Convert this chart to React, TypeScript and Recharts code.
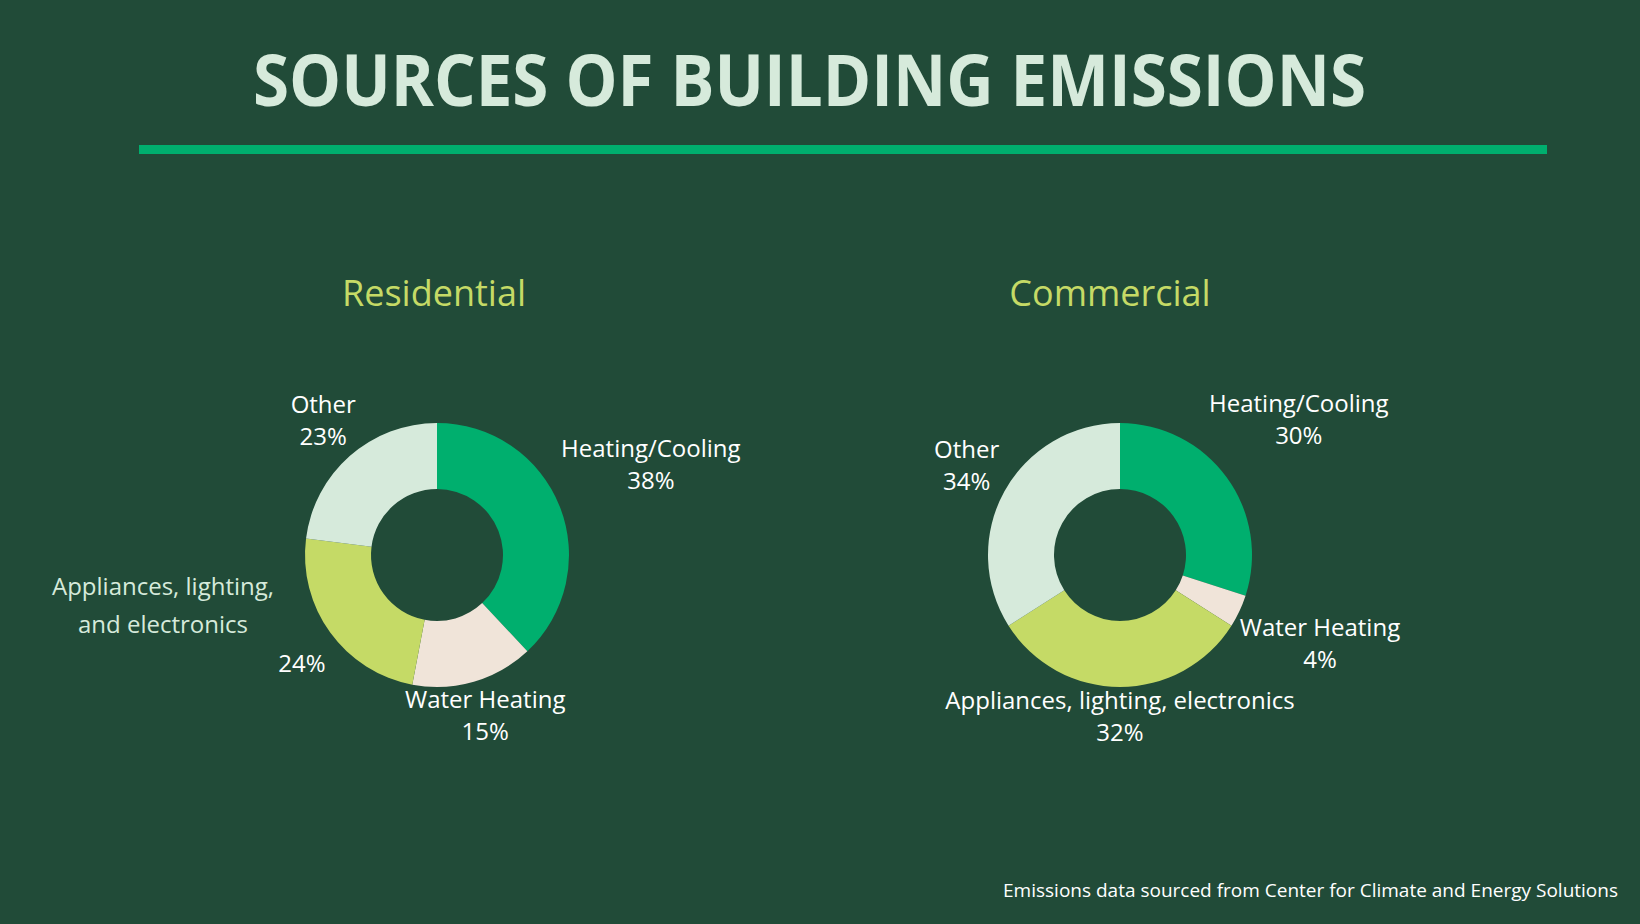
import React from 'react'
import { PieChart, Pie, Cell } from 'recharts'

const categories = ['Heating/Cooling', 'Water Heating', 'Appliances, lighting, electronics', 'Other']
const residentialValues = [38, 15, 24, 23]
const commercialValues = [30, 4, 32, 34]
const residentialNames = [['Heating/Cooling'], ['Water Heating'], ['Appliances, lighting,', 'and electronics'], ['Other']]
const commercialNames = [['Heating/Cooling'], ['Water Heating'], ['Appliances, lighting, electronics'], ['Other']]

const SLICE_COLORS = ['#00AF6E', '#F0E4D9', '#C5DA66', '#D6EADB']
const BG = '#214B38'
const MINT = '#D6EADB'
const LIME = '#C5DA66'
const FONT = '"Open Sans", sans-serif'
const LABEL_SIZE = 24

const residentialData = categories.map((c, i) => ({ name: c, value: residentialValues[i], lines: residentialNames[i] }))
const commercialData = categories.map((c, i) => ({ name: c, value: commercialValues[i], lines: commercialNames[i] }))

// label distance from the centre for each slice
const residentialLayout: any[] = [{ r: 230 }, { r: 173 }, { r: 167, split: { dx: -274, dy: [40, 78] } }, { r: 172 }]
const commercialLayout: any[] = [{ r: 221 }, { r: 221 }, { r: 167 }, { r: 175 }]

const RAD = Math.PI / 180

function makeLabel(layout: any[]) {
  return (p: any) => {
    const { cx, cy, midAngle, index, value, payload } = p
    const l = layout[index]
    const x = cx + l.r * Math.cos(-midAngle * RAD)
    const y = cy + l.r * Math.sin(-midAngle * RAD) + 3
    const lines: string[] = payload.lines
    if (l.split) {
      return (
        <g>
          {lines.map((t, i) => (
            <text key={i} x={cx + l.split.dx} y={cy + l.split.dy[i]} textAnchor="middle" fill={MINT} fontSize={LABEL_SIZE} fontFamily={FONT}>
              {t}
            </text>
          ))}
          <text x={x} y={y + 16} textAnchor="middle" fill="#FFFFFF" fontSize={LABEL_SIZE} fontFamily={FONT}>
            {`${value}%`}
          </text>
        </g>
      )
    }
    return (
      <g>
        <text x={x} y={y - 16} textAnchor="middle" fill="#FFFFFF" fontSize={LABEL_SIZE} fontFamily={FONT}>
          {lines[0]}
        </text>
        <text x={x} y={y + 16} textAnchor="middle" fill="#FFFFFF" fontSize={LABEL_SIZE} fontFamily={FONT}>
          {`${value}%`}
        </text>
      </g>
    )
  }
}

export default function App() {
  return (
    <div style={{ position: 'fixed', left: 0, top: 0, width: 1640, height: 924, background: BG }}>
      <PieChart width={1640} height={924} margin={{ top: 0, right: 0, bottom: 0, left: 0 }}>
        <Pie
          data={residentialData}
          dataKey="value"
          cx={437}
          cy={555}
          innerRadius={66}
          outerRadius={132}
          startAngle={90}
          endAngle={-270}
          stroke="none"
          labelLine={false}
          label={makeLabel(residentialLayout)}
          isAnimationActive={false}
        >
          {residentialData.map((d, i) => (
            <Cell key={`r-${i}`} fill={SLICE_COLORS[i]} />
          ))}
        </Pie>
        <Pie
          data={commercialData}
          dataKey="value"
          cx={1120}
          cy={555}
          innerRadius={66}
          outerRadius={132}
          startAngle={90}
          endAngle={-270}
          stroke="none"
          labelLine={false}
          label={makeLabel(commercialLayout)}
          isAnimationActive={false}
        >
          {commercialData.map((d, i) => (
            <Cell key={`c-${i}`} fill={SLICE_COLORS[i]} />
          ))}
        </Pie>
      </PieChart>

      {/* titles, rule and source note */}
      <svg width={1640} height={924} style={{ position: 'absolute', left: 0, top: 0, pointerEvents: 'none' }}>
        <text x={253} y={106} fill={MINT} fontSize={72} fontWeight={700} fontFamily={FONT} textLength={1113} lengthAdjust="spacingAndGlyphs">
          SOURCES OF BUILDING EMISSIONS
        </text>
        <rect x={139} y={145} width={1408} height={9} fill="#00AF6E" />
        <text x={434} y={306} textAnchor="middle" fill={LIME} fontSize={36} fontFamily={FONT}>
          Residential
        </text>
        <text x={1110} y={306} textAnchor="middle" fill={LIME} fontSize={36} fontFamily={FONT}>
          Commercial
        </text>
        <text x={1618} y={897} textAnchor="end" fill="#FFFFFF" fontSize={19} fontFamily={FONT}>
          Emissions data sourced from Center for Climate and Energy Solutions
        </text>
      </svg>
    </div>
  )
}
